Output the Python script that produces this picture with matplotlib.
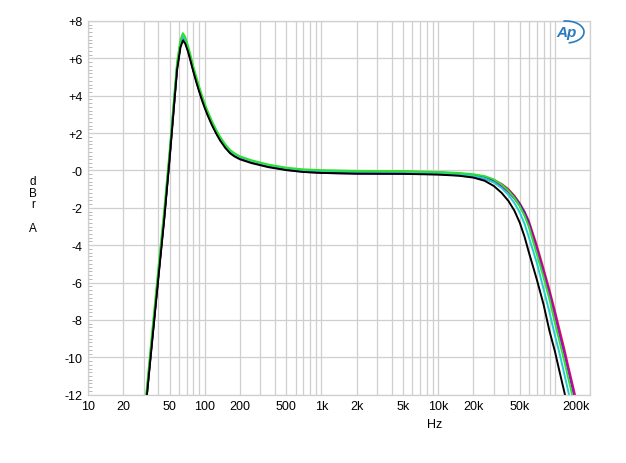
import matplotlib
matplotlib.use("Agg")
import matplotlib.pyplot as plt
from matplotlib.ticker import FixedLocator, MultipleLocator, NullFormatter
from matplotlib.patches import Arc

plt.rcParams['font.family'] = ['Liberation Sans', 'DejaVu Sans']

# ---- data -------------------------------------------------------------
freq = [30, 32, 35, 40, 45, 50, 55, 58, 62, 65,
        68, 72, 75, 80, 85, 90, 95, 100, 105, 115,
        125, 135, 150, 165, 180, 200, 250, 350, 500, 700,
        1000, 2000, 5000,
        10000, 15000, 20000, 25000, 30000, 35000, 40000, 45000, 50000, 55000,
        60000, 70000, 80000, 90000, 100000, 110000, 120000, 130000, 140000, 150000,
        160000]

black = [-13.7, -12.0, -9.5, -5.8, -2.6, 0.6, 3.7, 5.4, 6.6, 6.95,
         6.8, 6.35, 5.95, 5.28, 4.7, 4.19, 3.74, 3.35, 3.01, 2.44,
         1.99, 1.62, 1.21, 0.92, 0.75, 0.6, 0.4, 0.18, 0.02, -0.08,
         -0.13, -0.17, -0.18,
         -0.22, -0.28, -0.38, -0.55, -0.83, -1.2, -1.63, -2.15, -2.79, -3.55,
         -4.4, -5.83, -7.17, -8.6, -9.67, -10.8, -11.8, -12.8, -13.7, -14.5,
         -15.3]

cyan = [-13.5, -11.8, -9.2, -5.5, -2.3, 0.85, 3.95, 5.65, 6.85, 7.2,
        7.0, 6.55, 6.15, 5.46, 4.88, 4.36, 3.9, 3.51, 3.16, 2.59,
        2.13, 1.76, 1.34, 1.05, 0.87, 0.72, 0.51, 0.28, 0.11, 0.0,
        -0.05, -0.09, -0.1,
        -0.15, -0.21, -0.29, -0.42, -0.64, -0.94, -1.31, -1.74, -2.24, -2.86,
        -3.59, -4.94, -6.34, -7.6, -8.82, -9.82, -10.85, -11.8, -12.7, -13.55,
        -14.4]

green = [-13.3, -11.6, -9.0, -5.3, -2.1, 1.0, 4.1, 5.8, 7.0, 7.35,
         7.15, 6.65, 6.25, 5.56, 4.97, 4.45, 3.99, 3.59, 3.24, 2.66,
         2.2, 1.82, 1.4, 1.1, 0.92, 0.76, 0.55, 0.32, 0.15, 0.06,
         0.02, -0.02, -0.03,
         -0.08, -0.13, -0.20, -0.30, -0.48, -0.75, -1.08, -1.46, -1.91, -2.43,
         -3.04, -4.47, -5.73, -6.9, -8.14, -9.2, -10.15, -11.1, -11.95, -12.8,
         -13.6]

blue = [-13.6, -11.9, -9.35, -5.65, -2.45, 0.75, 3.85, 5.55, 6.75, 7.1,
        6.92, 6.47, 6.07, 5.39, 4.81, 4.3, 3.84, 3.45, 3.11, 2.54,
        2.08, 1.71, 1.3, 1.0, 0.83, 0.68, 0.47, 0.24, 0.06, -0.05,
        -0.1, -0.14, -0.15,
        -0.17, -0.21, -0.28, -0.38, -0.53, -0.76, -1.06, -1.41, -1.81, -2.26,
        -2.82, -4.17, -5.42, -6.57, -7.7, -8.82, -9.73, -10.67, -11.53, -12.37,
        -13.17]

magenta = [-13.6, -11.9, -9.4, -5.7, -2.5, 0.7, 3.8, 5.5, 6.72, 7.08,
           6.9, 6.43, 6.03, 5.35, 4.77, 4.26, 3.81, 3.42, 3.08, 2.51,
           2.06, 1.69, 1.28, 0.98, 0.81, 0.66, 0.45, 0.21, 0.04, -0.07,
           -0.13, -0.17, -0.17,
           -0.2, -0.26, -0.34, -0.45, -0.62, -0.86, -1.15, -1.5, -1.9, -2.35,
           -2.9, -4.2, -5.45, -6.6, -7.7, -8.75, -9.7, -10.6, -11.45, -12.25,
           -13.05]

red = [-13.6, -11.9, -9.4, -5.7, -2.5, 0.7, 3.8, 5.5, 6.7, 7.05,
       6.88, 6.43, 6.03, 5.36, 4.78, 4.27, 3.82, 3.43, 3.09, 2.52,
       2.07, 1.7, 1.29, 1.0, 0.83, 0.68, 0.47, 0.24, 0.08, 0.0,
       -0.04, -0.06, -0.06,
       -0.1, -0.16, -0.24, -0.34, -0.5, -0.72, -1.0, -1.35, -1.75, -2.2,
       -2.72, -4.0, -5.25, -6.4, -7.5, -8.55, -9.5, -10.45, -11.3, -12.1,
       -12.9]

xtick_vals = [10, 20, 50, 100, 200, 500, 1000, 2000, 5000, 10000, 20000, 50000, 200000]
xtick_labels = ['10', '20', '50', '100', '200', '500', '1k', '2k', '5k', '10k', '20k', '50k', '200k']
ytick_vals = [8, 6, 4, 2, 0, -2, -4, -6, -8, -10, -12]
ytick_labels = ['+8', '+6', '+4', '+2', '-0', '-2', '-4', '-6', '-8', '-10', '-12']

# ---- figure -----------------------------------------------------------
W, H = 626, 464
fig = plt.figure(figsize=(W / 100, H / 100), dpi=100)
ax = fig.add_axes([88 / W, 1 - 395.7 / H, (590 - 88) / W, (395.7 - 22) / H])

series = [(red, '#e0202a'), (blue, '#2020d0'), (magenta, '#c000c0'),
          (cyan, '#20d0d0'), (green, '#30e030'), (black, '#000000')]
for vals, col in series:
    ax.plot(freq, vals, color=col, lw=1.4, solid_joinstyle='round')

ax.set_xscale('log')
ax.set_xlim(10, 200000)
ax.set_ylim(-12, 8)

grid_col = '#cfcfcf'
minor_x = []
for dec in [10, 100, 1000, 10000, 100000]:
    for m in range(1, 10):
        v = dec * m
        if 10 <= v <= 200000:
            minor_x.append(v)
for v in minor_x:
    ax.axvline(v, color=grid_col, lw=0.9, zorder=0)
for v in ytick_vals:
    ax.axhline(v, color=grid_col, lw=0.9, zorder=0)

ax.xaxis.set_major_locator(FixedLocator(xtick_vals))
ax.set_xticklabels(xtick_labels)
ax.xaxis.set_minor_formatter(NullFormatter())
ax.xaxis.set_minor_locator(FixedLocator([]))
ax.set_yticks(ytick_vals)
ax.set_yticklabels(ytick_labels)
ax.yaxis.set_minor_locator(MultipleLocator(0.2))

ax.tick_params(axis='x', which='major', length=0, pad=4, labelsize=9, colors='#000000')
ax.tick_params(axis='y', which='major', length=0, pad=4, labelsize=9)
ax.tick_params(axis='y', which='minor', length=3, width=0.6, direction='in', color='#b0b0b0')

lbls = ax.get_xticklabels()
lbls[-1].set_horizontalalignment('right')

for s in ax.spines.values():
    s.set_color(grid_col)
    s.set_linewidth(0.9)

# axis labels
fig.text(435 / W, 1 - 425 / H, 'Hz', ha='center', va='center', fontsize=9)
fig.text(33 / W, 1 - 176 / H, 'd\nB\nr\n\nA', ha='center', va='top', fontsize=8.5,
         linespacing=0.97)

# AP logo
fig.text(566 / W, 1 - 33 / H, 'Ap', ha='center', va='center', fontsize=11,
         style='italic', weight='bold', color='#2b7bbf')
logo = Arc((566 / W, 1 - 33 / H), 36 / W, 22 / H, theta1=-80, theta2=100,
           transform=fig.transFigure, color='#2b7bbf', lw=1.2)
fig.add_artist(logo)

fig.savefig('out.png', dpi=100)
